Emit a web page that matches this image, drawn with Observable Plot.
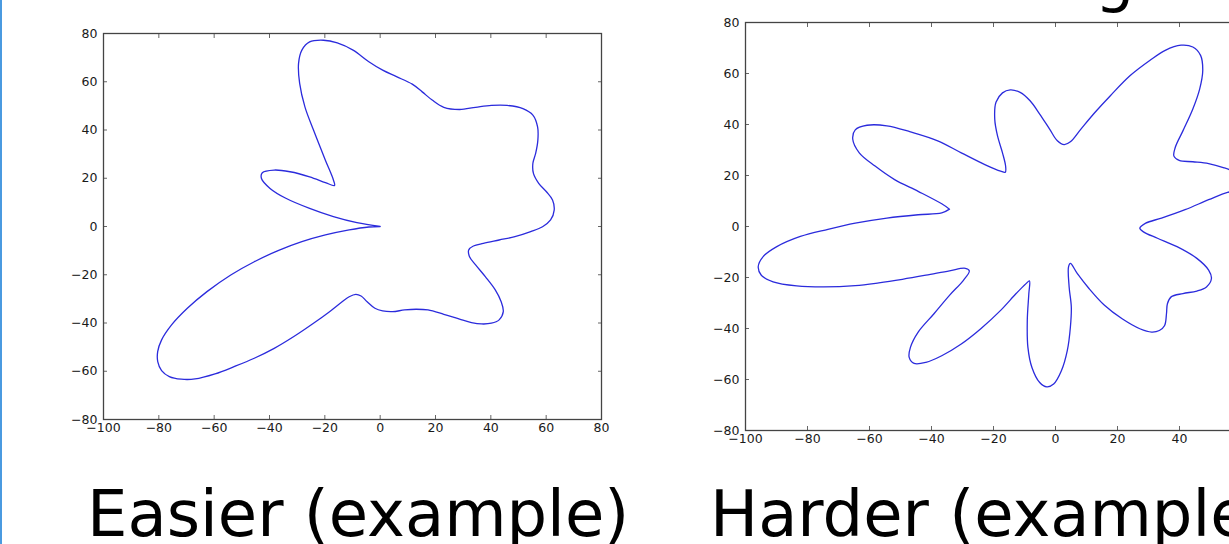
<!DOCTYPE html>
<html>
<head>
<meta charset="utf-8">
<script src="https://cdn.jsdelivr.net/npm/d3@7"></script>
<script src="https://cdn.jsdelivr.net/npm/@observablehq/plot@0.6"></script>
<style>
  html, body { margin: 0; padding: 0; background: #fff; overflow: hidden; width: 1229px; height: 544px; }
  #root { position: relative; width: 1229px; height: 544px; overflow: hidden; background: #fff; }
  .panel { position: absolute; }
  .panel text { font-size: 12.5px !important; font-family: 'DejaVu Sans', sans-serif !important; }
  #edge { position: absolute; left: 0; top: 0; width: 2px; height: 544px; background: #4a9ae0; }
  #captions { position: absolute; left: 0; top: 0; }
</style>
</head>
<body>
<div id="root"><div id="edge"></div></div>
<script>
// ---- tick values ----
const xTicks = [-100, -80, -60, -40, -20, 0, 20, 40, 60, 80];
const yTicks = [-80, -60, -40, -20, 0, 20, 40, 60, 80];

// ---- captions ----
const captions = ["Easier (example)", "Harder (example)"];
const topFragment = "g";

// ---- "Easier" curve (traced) ----
const easierX = [0, -8.4, -16.9, -25.5, -34.1, -39.8, -42.9, -42.6, -38.3, -32.6, -25.5, -19.8, -16.5, -16.9, -19.8, -24.1, -27.2, -29.1, -29.5, -28.3, -25.5, -20.5, -15.5, -9.8, -4.1, 0.9, 5.9, 11.6, 15.2, 18.8, 23.0, 28.7, 34.5, 40.2, 45.9, 51.6, 55.2, 56.9, 57.0, 56.2, 55.2, 55.4, 57.3, 60.1, 62.3, 62.9, 61.6, 58.7, 54.4, 48.7, 43.0, 37.3, 33.7, 32.0, 32.3, 34.5, 38.0, 41.6, 43.7, 44.5, 43.0, 40.2, 36.6, 33.0, 28.7, 23.0, 17.3, 13.0, 8.8, 4.5, 0.9, -1.9, -4.8, -6.9, -8.8, -11.2, -14.1, -18.3, -24.1, -31.2, -38.3, -45.5, -52.6, -59.7, -66.9, -71.9, -76.2, -79.0, -80.4, -80.4, -79.0, -75.4, -69.7, -62.6, -54.0, -45.5, -36.9, -28.3, -19.8, -11.2, -4.1, 0];
const easierY = [0, 1.6, 4.1, 7.5, 11.7, 15.8, 19.9, 22.3, 23.4, 22.7, 20.6, 18.2, 17.0, 19.3, 27.5, 40.0, 49.6, 59.3, 67.6, 73.1, 76.5, 77.2, 76.1, 73.1, 68.3, 64.8, 62.1, 59.0, 55.8, 52.4, 49.4, 48.5, 49.4, 50.2, 50.2, 48.9, 46.2, 41.3, 35.8, 30.3, 26.2, 22.0, 17.9, 14.4, 11.0, 6.8, 2.7, -0.1, -2.1, -4.2, -5.6, -7.0, -8.1, -9.7, -12.5, -15.9, -20.8, -26.3, -31.1, -35.3, -38.7, -40.1, -40.4, -39.8, -38.4, -36.4, -34.6, -34.3, -34.6, -35.3, -35.0, -33.9, -31.1, -28.8, -28.1, -29.1, -31.5, -35.3, -40.1, -45.6, -50.5, -54.6, -58.0, -61.1, -63.2, -63.3, -62.2, -59.7, -56.0, -51.8, -47.0, -40.8, -33.9, -27.0, -20.1, -14.6, -10.0, -6.3, -3.5, -1.4, -0.2, 0];

// ---- "Harder" curve (traced) ----
const harderX = [-34.2, -36.7, -44.3, -51.9, -58.2, -63.3, -65.4, -64.6, -60.8, -54.4, -46.8, -38.0, -30.4, -22.8, -17.7, -16.2, -16.1, -17.1, -18.7, -19.6, -19.2, -17.1, -14.6, -11.4, -8.2, -5.1, -1.9, 0.6, 2.8, 4.8, 8.2, 12.7, 17.7, 24.1, 30.4, 35.4, 40.5, 44.3, 46.8, 47.5, 46.5, 44.3, 41.1, 38.6, 38.2, 39.9, 44.3, 49.4, 54.4, 58.5, 62.0, 62.5, 59.5, 55.5, 49.4, 41.8, 34.2, 29.1, 27.2, 28.5, 32.9, 39.2, 45.6, 49.4, 50.3, 48.7, 45.6, 41.1, 37.3, 36.1, 35.8, 35.2, 33.5, 31.0, 27.2, 21.5, 15.8, 10.8, 7.0, 4.8, 4.2, 4.4, 5.1, 4.8, 3.8, 1.9, -0.6, -2.8, -5.1, -7.6, -8.9, -9.1, -8.6, -8.4, -9.5, -12.7, -17.7, -24.1, -30.4, -36.7, -41.8, -45.6, -47.2, -46.8, -44.3, -39.2, -34.2, -29.7, -27.8, -29.1, -34.2, -41.8, -49.4, -57.0, -64.6, -74.7, -83.5, -91.1, -94.9, -95.9, -94.3, -89.9, -82.3, -73.4, -64.6, -54.4, -44.3, -36.7, -34.2];
const harderY = [6.8, 8.9, 13.8, 18.4, 23.7, 28.9, 34.2, 37.9, 39.7, 39.5, 37.1, 33.6, 28.9, 24.3, 21.7, 21.3, 23.7, 28.9, 35.5, 42.1, 48.7, 52.4, 53.6, 52.6, 49.3, 44.1, 38.2, 33.6, 32.1, 33.2, 38.2, 44.7, 51.3, 59.2, 65.1, 69.1, 71.1, 70.4, 67.1, 61.2, 53.9, 46.1, 37.5, 30.9, 27.6, 25.9, 25.4, 24.7, 23.0, 21.0, 18.0, 15.5, 14.0, 13.4, 10.5, 6.6, 3.3, 1.3, -0.7, -2.2, -4.6, -7.9, -12.5, -17.1, -20.4, -23.7, -25.3, -26.3, -27.6, -30.3, -34.2, -38.8, -40.8, -41.4, -40.1, -36.2, -30.9, -24.3, -18.4, -14.5, -15.8, -23.7, -31.6, -39.5, -48.7, -56.6, -61.8, -62.9, -61.2, -55.3, -47.4, -36.8, -26.3, -21.3, -22.4, -26.3, -32.9, -40.1, -46.1, -50.7, -53.3, -53.7, -51.3, -47.4, -41.4, -34.2, -27.0, -21.1, -17.4, -16.4, -17.4, -19.1, -20.7, -22.1, -23.2, -23.7, -23.3, -21.7, -19.1, -15.8, -11.8, -7.9, -3.9, -1.1, 1.3, 3.3, 4.6, 5.3, 6.8];

function makePlot(xs, ys, dims) {
  const data = xs.map((x, i) => ({x, y: ys[i]}));
  return Plot.plot({
    width: dims.width,
    height: dims.height,
    marginLeft: dims.ml,
    marginRight: dims.mr,
    marginTop: dims.mt,
    marginBottom: dims.mb,
    x: {domain: [-100, 80]},
    y: {domain: [-80, 80]},
    style: {fontFamily: "'DejaVu Sans', sans-serif", fontSize: "12.5px", color: "#222", background: "transparent", overflow: "visible"},
    marks: [
      Plot.line(data, {x: "x", y: "y", stroke: "#2b2bdc", strokeWidth: 1.3, curve: "catmull-rom"}),
      Plot.axisX(xTicks, {anchor: "bottom", tickSize: -4, tickPadding: 8, label: null, stroke: "#666", fill: "#1a1a1a", fontSize: 12.5}),
      Plot.axisX(xTicks, {anchor: "top", tickSize: -4, tickFormat: () => "", label: null, stroke: "#666"}),
      Plot.axisY(yTicks, {anchor: "left", tickSize: -4, tickPadding: 10, label: null, stroke: "#666", fill: "#1a1a1a", fontSize: 12.5}),
      Plot.axisY(yTicks, {anchor: "right", tickSize: -4, tickFormat: () => "", label: null, stroke: "#666"}),
      Plot.frame({stroke: "#444", strokeWidth: 1.3})
    ]
  });
}

const root = document.getElementById("root");

const left = makePlot(easierX, easierY, {width: 580, height: 440, ml: 53, mr: 29, mt: 20, mb: 34});
left.classList.add("panel");
left.style.left = "50px";
left.style.top = "13px";
root.appendChild(left);

const right = makePlot(harderX, harderY, {width: 640, height: 460, ml: 55, mr: 27, mt: 20, mb: 32});
right.classList.add("panel");
right.style.left = "690px";
right.style.top = "2px";
root.appendChild(right);

// captions as real text
const svgNS = "http://www.w3.org/2000/svg";
const cap = document.createElementNS(svgNS, "svg");
cap.setAttribute("id", "captions");
cap.setAttribute("width", 1229);
cap.setAttribute("height", 544);
const capPos = [[87, 536], [710, 536]];
captions.forEach((t, i) => {
  const el = document.createElementNS(svgNS, "text");
  el.setAttribute("x", capPos[i][0]);
  el.setAttribute("y", capPos[i][1]);
  el.setAttribute("font-family", "DejaVu Sans");
  el.setAttribute("font-size", 64);
  el.setAttribute("fill", "#000");
  el.textContent = t;
  cap.appendChild(el);
});
const frag = document.createElementNS(svgNS, "text");
frag.setAttribute("x", 1095);
frag.setAttribute("y", 0);
frag.setAttribute("font-family", "DejaVu Sans");
frag.setAttribute("font-size", 62);
frag.setAttribute("fill", "#000");
frag.textContent = topFragment;
cap.appendChild(frag);
root.appendChild(cap);
</script>
</body>
</html>
